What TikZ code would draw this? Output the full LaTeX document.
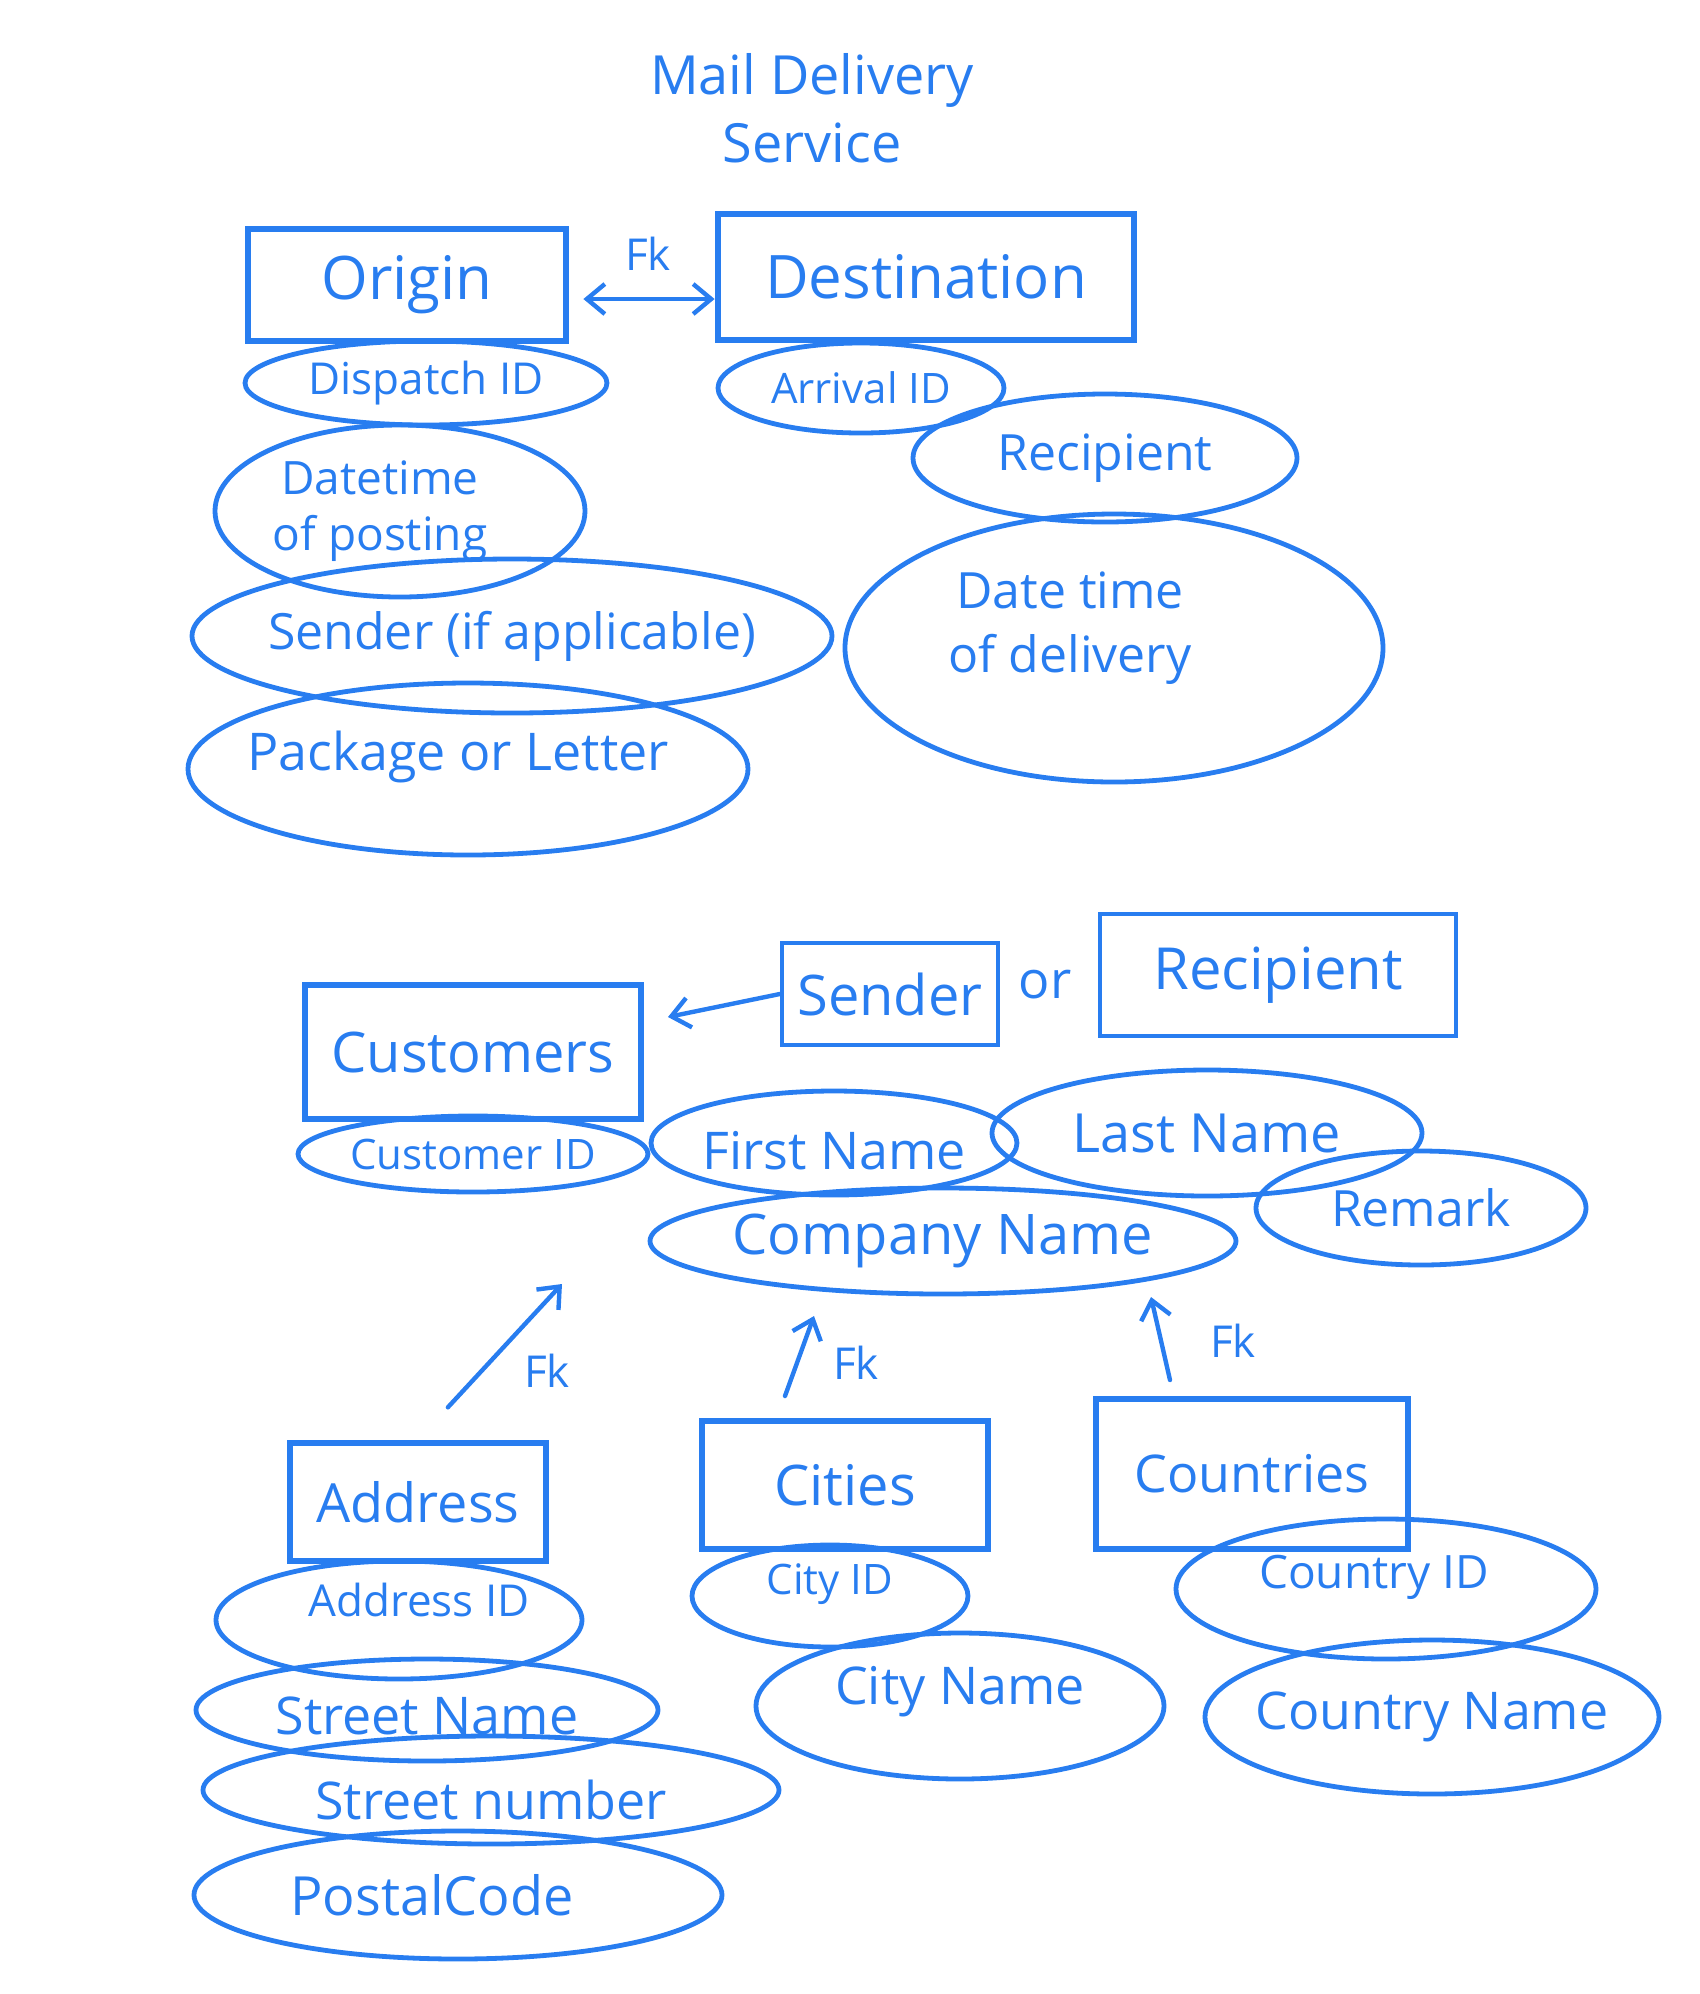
\documentclass[tikz,border=0pt]{standalone}
\usepackage{fontspec}
\setmainfont{Open Sans}
\usetikzlibrary{shapes.geometric,arrows.meta}
\definecolor{ink}{RGB}{40,125,240}
\newcommand\hfs[2]{\fontsize{#1}{#2}\selectfont}
\begin{document}
\begin{tikzpicture}[x=0.5pt,y=-0.5pt,
  ent/.style={draw=ink, line width=3.4pt, rectangle, inner sep=0pt, text=ink},
  smallbox/.style={draw=ink, line width=2.2pt, rectangle, inner sep=0pt, text=ink},
  attr/.style={draw=ink, line width=2.4pt, ellipse, inner sep=0pt},
  lbl/.style={text=ink, align=center},
  conn/.style={draw=ink, line width=2.2pt, line cap=round},
  tip/.style={-{Straight Barb[length=9pt,width=15pt,line width=2.2pt]}}
]
\useasboundingbox (0,0) rectangle (1700,1994);

% Title
\node[lbl, font=\hfs{27}{34}] (title) at (812,108) {Mail Delivery\\Service};

% Upper entities
\node[ent, minimum width=159pt, minimum height=56pt, font=\hfs{30}{34}] (origin) at (407,285) {Origin};
\node[ent, minimum width=208pt, minimum height=63pt, font=\hfs{30}{34}] (dest) at (926,277) {Destination};
\draw[conn, {Straight Barb[length=9pt,width=15pt,line width=2.2pt]}-{Straight Barb[length=9pt,width=15pt,line width=2.2pt]}] (origin.east) ++(14,14) coordinate (oe) -- ([yshift=-11pt]dest.west);
\node[lbl, font=\hfs{22}{26}] (fk1) at (648,254) {Fk};

% Origin attributes
\node[attr, minimum width=181pt, minimum height=42pt, label={[lbl,font=\hfs{22}{26}]center:Dispatch ID}] (dispatch) at (426,383) {};
\node[attr, minimum width=185pt, minimum height=86pt, label={[lbl,font=\hfs{23}{28},xshift=-10pt]center:Datetime\\of posting}] (posting) at (400,511) {};
\node[attr, minimum width=320pt, minimum height=77pt, label={[lbl,font=\hfs{25}{30}]center:Sender (if applicable)}] (sendera) at (512,636) {};
\node[attr, minimum width=280pt, minimum height=86pt, label={[lbl,font=\hfs{26}{30},yshift=6pt,xshift=-5pt]center:Package or Letter}] (pkg) at (468,769) {};

% Destination attributes
\node[attr, minimum width=143pt, minimum height=45pt, label={[lbl,font=\hfs{21}{26}]center:Arrival ID}] (arrival) at (861,388) {};
\node[attr, minimum width=192pt, minimum height=64pt, label={[lbl,font=\hfs{25}{30}]center:Recipient}] (recip) at (1105,458) {};
\node[attr, minimum width=269pt, minimum height=134pt, label={[lbl,font=\hfs{25}{32},xshift=-22pt,yshift=10pt]center:Date time\\of delivery}] (delivery) at (1114,648) {};

% Customers
\node[ent, minimum width=168pt, minimum height=67pt, font=\hfs{28}{32}] (cust) at (473,1052) {Customers};
\node[smallbox, minimum width=108pt, minimum height=51pt, font=\hfs{28}{32}] (sbox) at (890,994) {Sender};
\node[lbl, font=\hfs{26}{30}] (or) at (1045,985) {or};
\node[smallbox, minimum width=178pt, minimum height=61pt, font=\hfs{29}{32}] (rbox) at (1278,975) {Recipient};
\coordinate (custin) at (668,1017);
\draw[conn, tip] (sbox.west) -- (custin);

\node[attr, minimum width=175pt, minimum height=38pt, label={[lbl,font=\hfs{21}{26}]center:Customer ID}] (custid) at (473,1154) {};
\node[attr, minimum width=183pt, minimum height=52pt, label={[lbl,font=\hfs{26}{30},yshift=-4pt]center:First Name}] (first) at (834,1143) {};
\node[attr, minimum width=215pt, minimum height=63pt, label={[lbl,font=\hfs{27}{30}]center:Last Name}] (last) at (1207,1133) {};
\node[attr, minimum width=165pt, minimum height=57pt, label={[lbl,font=\hfs{25}{30}]center:Remark}] (remark) at (1421,1208) {};
\node[attr, minimum width=293pt, minimum height=53pt, label={[lbl,font=\hfs{28}{32}]center:Company Name}] (company) at (943,1241) {};

% Lower entities
\node[ent, minimum width=128pt, minimum height=59pt, font=\hfs{27}{30}] (addr) at (418,1502) {Address};
\node[ent, minimum width=143pt, minimum height=64pt, font=\hfs{28}{30}] (cities) at (845,1485) {Cities};
\node[ent, minimum width=156pt, minimum height=75pt, font=\hfs{26}{30}] (countries) at (1252,1474) {Countries};

% FK arrows
\coordinate (fkA) at (562,1284);
\draw[conn, tip, shorten <=22pt] (addr.north) -- (fkA);
\node[lbl, font=\hfs{22}{26}] (fk2) at (547,1371) {Fk};
\coordinate (fkB0) at (785,1396);
\coordinate (fkB) at (814,1316);
\draw[conn, tip] (fkB0) -- (fkB);
\node[lbl, font=\hfs{22}{26}] (fk3) at (856,1363) {Fk};
\coordinate (fkC0) at (1170,1380);
\coordinate (fkC) at (1151,1297);
\draw[conn, tip] (fkC0) -- (fkC);
\node[lbl, font=\hfs{22}{26}] (fk4) at (1233,1341) {Fk};

% Address attributes
\node[attr, minimum width=183pt, minimum height=59pt, label={[lbl,font=\hfs{22}{26},xshift=10pt,yshift=10pt]center:Address ID}] (addrid) at (399,1620) {};
\node[attr, minimum width=231pt, minimum height=51pt, label={[lbl,font=\hfs{26}{30},yshift=-3pt]center:Street Name}] (street) at (427,1710) {};
\node[attr, minimum width=288pt, minimum height=54pt, label={[lbl,font=\hfs{26}{30},yshift=-5pt]center:Street number}] (stno) at (491,1790) {};
\node[attr, minimum width=264pt, minimum height=64pt, label={[lbl,font=\hfs{27}{30},xshift=-13pt]center:PostalCode}] (postal) at (458,1895) {};

% Cities attributes
\node[attr, minimum width=138pt, minimum height=51pt, label={[lbl,font=\hfs{21}{26},yshift=6pt]center:City ID}] (cityid) at (830,1596) {};
\node[attr, minimum width=204pt, minimum height=73pt, label={[lbl,font=\hfs{26}{30},yshift=7pt]center:City Name}] (cityname) at (960,1706) {};

% Countries attributes
\node[attr, minimum width=210pt, minimum height=70pt, label={[lbl,font=\hfs{23}{26},xshift=-6pt,yshift=6pt]center:Country ID}] (ctryid) at (1386,1589) {};
\node[attr, minimum width=227pt, minimum height=77pt, label={[lbl,font=\hfs{26}{30}]center:Country Name}] (ctryname) at (1432,1717) {};
\end{tikzpicture}
\end{document}
